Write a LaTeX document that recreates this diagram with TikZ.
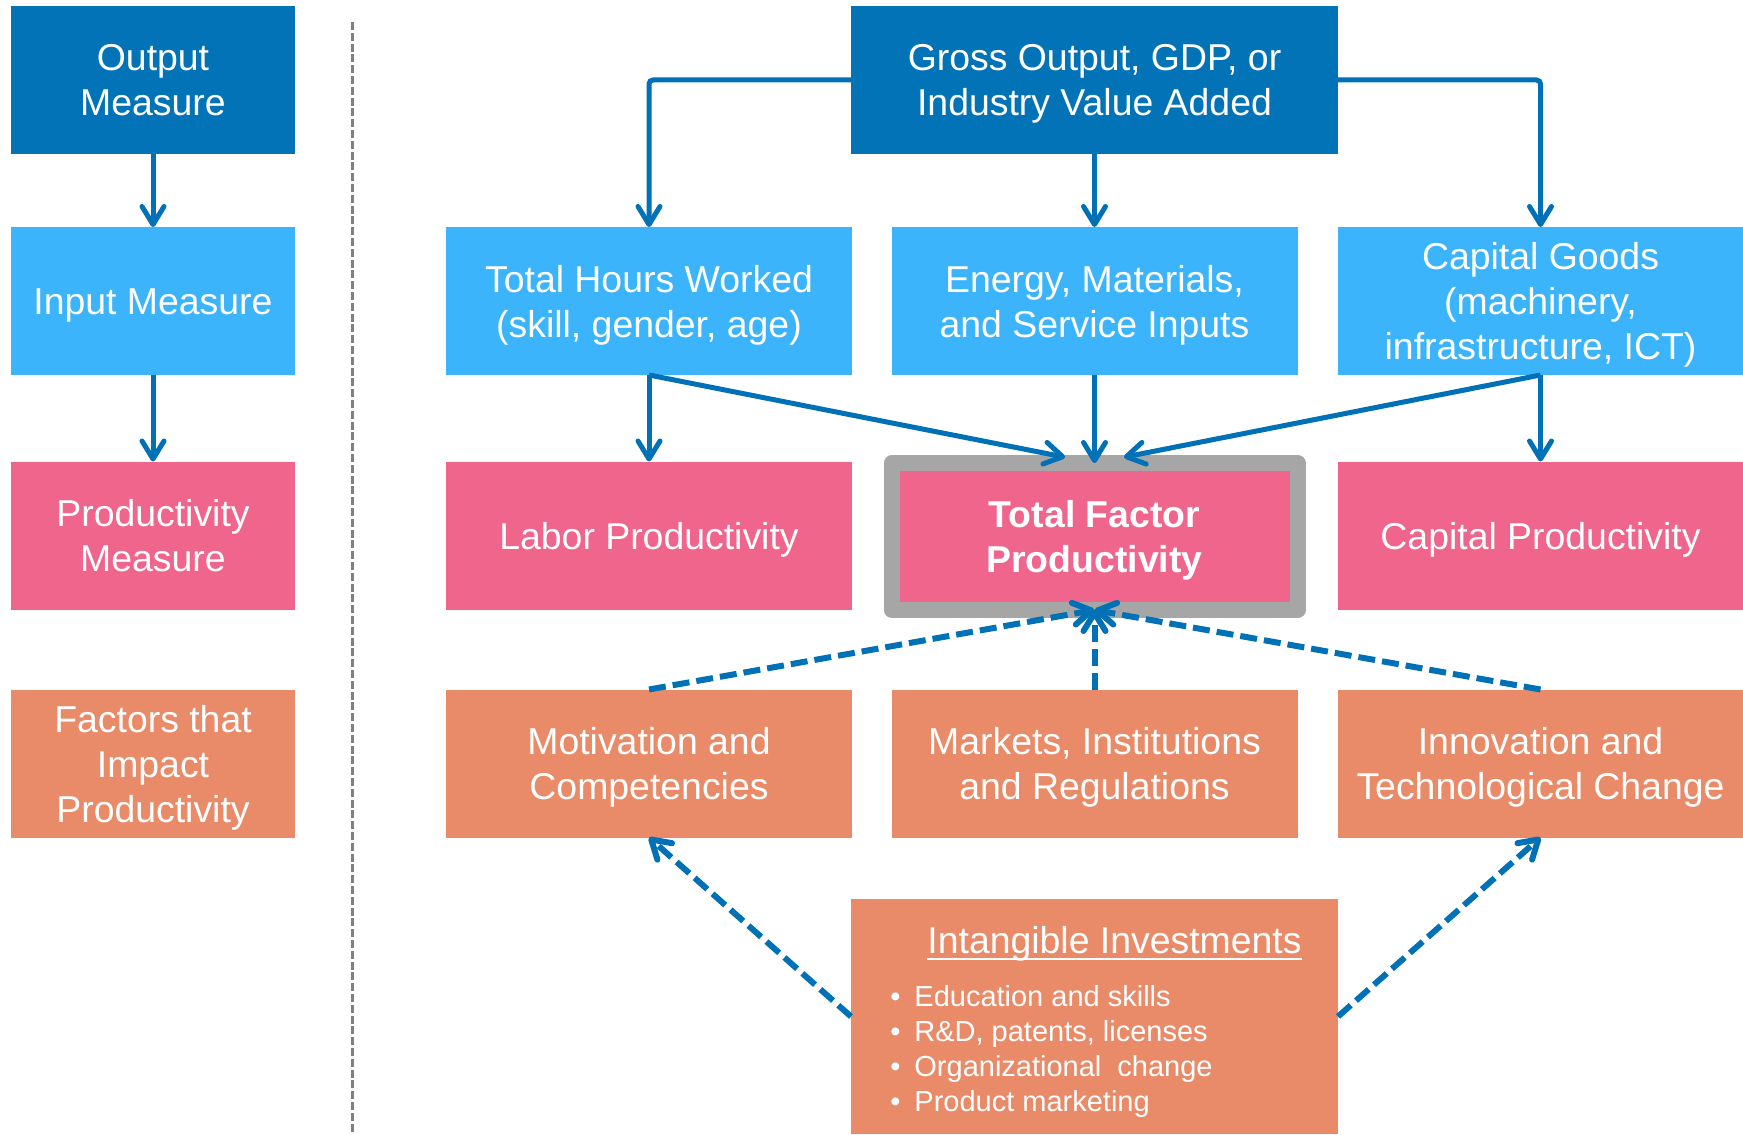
\documentclass[tikz,border=0pt]{standalone}
\usepackage{fontspec}
\setmainfont{Liberation Sans}
\usetikzlibrary{arrows.meta,calc}

\definecolor{darkblue}{RGB}{2,115,182}
\definecolor{lightblue}{RGB}{60,180,252}
\definecolor{rosepink}{RGB}{240,101,140}
\definecolor{salmon}{RGB}{233,139,104}
\definecolor{framegray}{RGB}{166,166,166}
\definecolor{arrowblue}{RGB}{0,112,183}
\definecolor{sepgray}{RGB}{128,128,128}

\newcommand{\boxfont}{\fontsize{18.7pt}{22.5pt}\selectfont}
\newcommand{\listfont}{\fontsize{14.5pt}{17.5pt}\selectfont}
% fixed first-line height and last-line depth, so every box centres its lines alike
\newcommand{\hgtstrut}{\rule{0pt}{18pt}}
\newcommand{\dptstrut}{\rule[-4.5pt]{0pt}{4.5pt}}

\begin{document}
\begin{tikzpicture}[x=0.5pt,y=-0.5pt,
  box/.style={rectangle, inner sep=0pt, outer sep=0pt, text=white,
    align=center, font=\boxfont},
  leftbox/.style={box, minimum width=142pt, minimum height=74pt},
  widebox/.style={box, minimum width=203pt, minimum height=74pt},
  outbox/.style={fill=darkblue},
  inbox/.style={fill=lightblue},
  prodbox/.style={fill=rosepink},
  factbox/.style={fill=salmon},
  tip/.style={-{Straight Barb[length=9pt,width=11pt,round]}},
  flow/.style={draw=arrowblue, line width=2.5pt, tip},
  dflow/.style={draw=arrowblue, line width=3pt, dash pattern=on 8.5pt off 3.5pt, tip},
  listitem/.style={anchor=base west, inner sep=0pt, text=white, font=\listfont},
]
\useasboundingbox (0,0) rectangle (1743,1134);

% left legend column
\node[leftbox, outbox]  (outm)  at (153,80)    {\hgtstrut Output\\Measure\dptstrut};
\node[leftbox, inbox]   (inm)   at (153,301)   {\hgtstrut Input Measure\dptstrut};
\node[leftbox, prodbox] (prodm) at (153,535.5) {\hgtstrut Productivity\\Measure\dptstrut};
\node[leftbox, factbox] (fact)  at (153,763.5) {\hgtstrut Factors that\\Impact\\Productivity\dptstrut};

% separator
\coordinate (septop) at (352,22);
\coordinate (sepbot) at (352,1134);
\draw[sepgray, line width=1.5pt, dash pattern=on 4pt off 1.4pt] (septop) -- (sepbot);

% output
\node[box, outbox, minimum width=243.5pt, minimum height=74pt] (gdp) at (1094.5,80)
  {\hgtstrut Gross Output, GDP, or\\Industry Value Added\dptstrut};

% inputs
\node[widebox, inbox] (hours)  at (649,301)    {\hgtstrut Total Hours Worked\\(skill, gender, age)\dptstrut};
\node[widebox, inbox] (energy) at (1094.5,301) {\hgtstrut Energy, Materials,\\and Service Inputs\dptstrut};
\node[widebox, inbox] (capg)   at (1540.5,301) {\hgtstrut Capital Goods\\(machinery,\\infrastructure, ICT)\dptstrut};

% productivity measures
\node[widebox, prodbox] (labor) at (649,535.5) {\hgtstrut Labor Productivity\dptstrut};
\node[widebox, prodbox, minimum height=73.5pt, draw=framegray, line width=8pt,
      line join=round, font=\boxfont\bfseries] (tfp) at (1094.5,536.5)
  {\hgtstrut Total Factor\\Productivity\dptstrut};
\node[widebox, prodbox] (capprod) at (1540.5,535.5) {\hgtstrut Capital Productivity\dptstrut};

% factors
\node[widebox, factbox] (motiv)   at (649,763.5)    {\hgtstrut Motivation and\\Competencies\dptstrut};
\node[widebox, factbox] (markets) at (1094.5,763.5) {\hgtstrut Markets, Institutions\\and Regulations\dptstrut};
\node[widebox, factbox] (innov)   at (1540.5,763.5) {\hgtstrut Innovation and\\Technological Change\dptstrut};

% intangible investments
\node[box, factbox, minimum width=243.5pt, minimum height=117.5pt] (intang) at (1094.5,1016.5) {};
\node[anchor=base west, inner sep=0pt, text=white, font=\boxfont] (head) at (927,953)
  {Intangible Investments};
\draw[white, line width=1.1pt] ([yshift=-3pt]head.base west) -- ([yshift=-3pt]head.base east);
\node[listitem] (item1) at (885,1006) {\makebox[10pt][c]{•}\hspace{4.5pt}Education and skills};
\node[listitem] (item2) at (885,1041) {\makebox[10pt][c]{•}\hspace{4.5pt}R\&D, patents, licenses};
\node[listitem] (item3) at (885,1076) {\makebox[10pt][c]{•}\hspace{4.5pt}Organizational\ \ change};
\node[listitem] (item4) at (885,1111) {\makebox[10pt][c]{•}\hspace{4.5pt}Product marketing};

% legend arrows
\draw[flow] (outm.south) -- (inm.north);
\draw[flow] (inm.south) -- (prodm.north);

% output to inputs
\draw[flow, rounded corners=2pt] (gdp.west) -| (hours.north);
\draw[flow, rounded corners=2pt] (gdp.east) -| (capg.north);
\draw[flow] (gdp.south) -- (energy.north);

% inputs to productivity
\draw[flow] (hours.south) -- (labor.north);
\draw[flow] (capg.south) -- (capprod.north);
\draw[flow] (energy.south) -- (tfp.north);
\draw[flow, shorten >=15pt] (hours.south) -- (tfp.north);
\draw[flow, shorten >=15pt] (capg.south) -- (tfp.north);

% factors to TFP
\draw[dflow] (motiv.north) -- (tfp.south);
\draw[dflow] (markets.north) -- (tfp.south);
\draw[dflow] (innov.north) -- (tfp.south);

% intangibles to factors
\draw[dflow] (intang.west) -- (motiv.south);
\draw[dflow] (intang.east) -- (innov.south);
\end{tikzpicture}
\end{document}
